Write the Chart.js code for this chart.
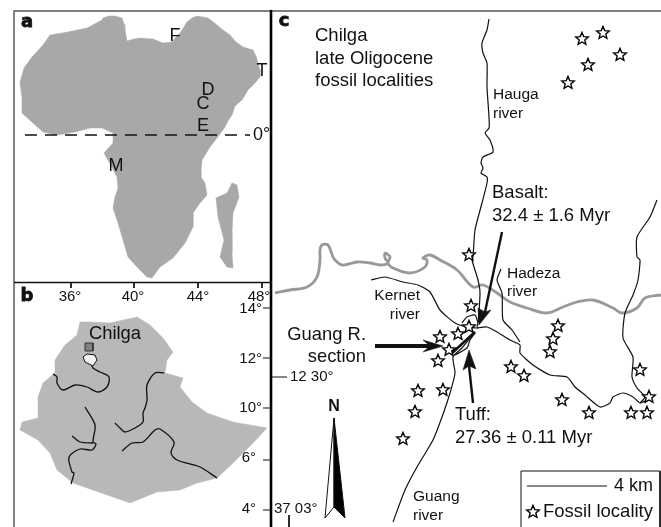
<!DOCTYPE html>
<html>
<head>
<meta charset="utf-8">
<script src="https://cdn.jsdelivr.net/npm/chart.js@4/dist/chart.umd.min.js"></script>
<style>
html, body { margin: 0; padding: 0; background: #fff; }
canvas { display: block; }
</style>
</head>
<body>
<canvas id="chart_div" width="661" height="527"></canvas>
<script>
// all map values are in picture units
var africa = [[103,18],[109,16],[115,16],[122,18],[124,24],[125,30],[127,41],[134,39],[140,38],[153,39],[163,43],[172,42],[176,37],[180,33],[184,27],[187,22],[192,18],[197,16],[208,18],[217,25],[223,30],[230,35],[236,42],[243,47],[253,50],[256,56],[258,63],[260,70],[260,77],[255,83],[248,90],[245,95],[242,100],[235,106],[232,115],[228,121],[225,127],[217,138],[210,147],[202,160],[201,170],[201,177],[205,183],[207,195],[200,203],[193,213],[193,227],[185,243],[173,258],[160,267],[152,278],[147,277],[137,267],[128,257],[123,240],[118,223],[113,208],[115,197],[118,188],[117,177],[108,160],[104,153],[113,143],[113,133],[102,128],[90,128],[75,132],[57,135],[43,132],[33,123],[22,113],[22,98],[20,82],[24,68],[32,57],[43,45],[50,35],[68,32],[87,28],[102,20]];
var madagascar = [[216,198],[227,193],[232,183],[237,185],[239,197],[233,213],[232,233],[232,253],[233,268],[227,267],[220,257],[224,240],[218,217]];
var ethiopia = [[80,322],[90,322],[110,323],[137,317],[150,325],[163,338],[173,352],[167,360],[165,373],[183,378],[180,387],[192,402],[207,413],[233,422],[267,428],[253,443],[233,463],[217,478],[197,483],[180,490],[157,492],[130,503],[113,497],[93,490],[73,483],[57,470],[50,453],[38,440],[20,430],[22,422],[38,418],[38,397],[43,383],[55,373],[55,360],[65,345],[77,335]];
var lakeTana = [[83,357],[87,354],[95,355],[97,360],[93,366],[85,362],[83,357]];
var chilgaSquare = [[85,343],[93,343],[93,351],[85,351],[85,343]];
var ethRivers = [
  [[53,374],[57,377],[57,383],[63,390],[75,385],[87,387],[98,392],[107,387],[109,377],[100,372],[93,368],[91,363]],
  [[164,373],[155,373],[147,385],[147,400],[145,408],[143,413],[143,422],[135,428],[125,432],[120,428],[115,423]],
  [[217,478],[200,467],[177,460],[171,453],[174,442],[160,429],[155,430],[143,442],[132,443],[122,451]],
  [[85,407],[95,425],[93,442],[96,444],[92,450],[80,449],[69,457],[72,472],[74,473],[71,484]],
  [[72,436],[80,442],[93,443]]
];
var haugaRiver = [[489,19],[487,30],[482,43],[483,53],[487,63],[487,87],[489,117],[489,128],[485,133],[490,140],[493,152],[483,157],[481,163],[483,168],[481,173],[487,177],[487,183],[482,203],[475,230],[473,257],[472,260],[478,280],[480,293],[478,323],[477,327]];
var eastRiver = [[657,200],[650,217],[637,237],[637,257],[640,260],[638,280],[633,295],[625,313],[623,338],[633,357],[632,377],[637,388],[645,397],[640,403]];
var mainRiver = [[477,328],[487,327],[497,332],[510,340],[520,345],[520,353],[533,365],[550,375],[567,377],[575,387],[585,395],[600,407],[610,403],[613,397],[623,393],[633,397],[640,403],[645,401]];
var hadezaRiver = [[501,269],[497,280],[502,293],[503,320],[512,330],[520,342]];
var kernetRiver = [[371,280],[385,277],[403,282],[418,285],[430,292],[440,310],[455,323],[467,327],[478,328]];
var kernetLoop = [[462,323],[467,317],[475,315],[478,323]];
var guangRiver = [[475,332],[462,348],[453,357],[455,373],[450,393],[442,417],[433,440],[417,467],[405,490],[393,522]];
var guangLoop = [[475,333],[470,340],[467,348],[455,355]];
var thickRiver = [[275,293],[290,290],[307,287],[317,277],[320,260],[320,250],[322,245],[328,245],[333,257],[335,260],[342,265],[357,262],[370,263],[380,265],[388,263],[385,258],[385,253],[390,257],[388,263],[393,268],[410,273],[425,267],[427,260],[423,258],[430,255],[440,260],[457,270],[473,287],[483,285],[497,293],[510,302],[527,308],[547,313],[563,307],[577,302],[593,300],[613,308],[622,313],[637,308],[645,298],[661,295]];
var fossilSites = [[582,39],[603,33],[620,55],[588,65],[568,83],[469,255],[471,306],[440,337],[458,334],[469,327],[449,350],[438,361],[558,326],[553,339],[550,352],[511,367],[524,376],[562,400],[589,413],[640,370],[649,397],[631,413],[647,413],[418,391],[443,390],[415,412],[403,439]];
var legendStar = [[533,512]];

var lonLabels = ["36°", "40°", "44°", "48°"];
var lonTicks = [71, 134, 198, 262];
var latLabels = ["14°", "12°", "10°", "6°", "4°"];
var latTicks = [308, 358, 408, 460, 510];
var africaSites = ["F", "D", "C", "E", "T", "M"];
var titleLines = ["Chilga", "late Oligocene", "fossil localities"];
var basaltLines = ["Basalt:", "32.4 ± 1.6 Myr"];
var tuffLines = ["Tuff:", "27.36 ± 0.11 Myr"];

var INK = "#111";

function toXY(pts) {
    return pts.map((p) => ({x: p[0], y: p[1]}));
}

var datasets = [];
function addPath(pts, color, width, opts) {
    var ds = Object.assign({
        data: toXY(pts),
        showLine: true,
        borderColor: color,
        borderWidth: width,
        pointRadius: 0,
        fill: false,
        tension: 0,
        borderJoinStyle: "round",
        borderCapStyle: "butt",
        clip: false,
        order: -datasets.length
    }, opts || {});
    datasets.push(ds);
}
function addShape(pts, color, line) {
    addPath(pts.concat([pts[0]]), line || color, line ? 1 : 0.5, {shapeColor: color});
}

function starImage(size, r) {
    var c = document.createElement("canvas"), ctx = c.getContext("2d");
    c.width = c.height = size;
    ctx.beginPath();
    for (var i = 0; i < 10; i++) {
        var a = -Math.PI / 2 + i * Math.PI / 5, rr = i % 2 ? r * 0.45 : r;
        ctx.lineTo(size / 2 + rr * Math.cos(a), size / 2 + rr * Math.sin(a));
    }
    ctx.closePath();
    ctx.fillStyle = "#fff";
    ctx.fill();
    ctx.lineWidth = 1.4;
    ctx.strokeStyle = "#000";
    ctx.stroke();
    return c;
}

// land
addShape(africa, "#a8a8a8");
addShape(madagascar, "#a8a8a8");
addShape(ethiopia, "#b8b8b8");
addPath([[25,135],[250,135]], INK, 1.3, {borderDash: [12, 8]});

ethRivers.forEach((r) => addPath(r, INK, 1.3, {tension: 0.3}));
addShape(lakeTana, "#f2f2f2", INK);
addShape(chilgaSquare, "#808080", "#333");

// panel c rivers
addPath(thickRiver, "#999", 2.8, {tension: 0.35});
[haugaRiver, eastRiver, mainRiver, hadezaRiver, kernetRiver, kernetLoop, guangRiver, guangLoop].forEach((r) => {
    addPath(r, INK, 1.2, {tension: 0.2});
});
addPath([[451,354],[475,332]], INK, 2.6);

// arrows
addPath([[502,232],[485,312]], INK, 2.4);
addShape([[479,325],[478,308],[485,312],[491,310]], INK);
addPath([[375,346],[430,346]], INK, 4);
addShape([[443,346],[423,340],[430,346],[423,352]], INK);
addPath([[473,403],[469,366]], INK, 2.4);
addShape([[469,350],[463,370],[469,366],[476,369]], INK);

// north arrow
addShape([[334,418],[325,518],[334,507]], "#fff", INK);
addShape([[334,418],[345,518],[334,507]], "#000", INK);

// frames and ticks
addPath([[14,11],[661,11]], "#555", 1.6);
addPath([[14,11],[14,527]], "#666", 1.6);
addPath([[14,282.5],[271,282.5]], INK, 1.4);
addPath([[271,11],[271,527]], "#000", 2.6);
lonTicks.forEach((x) => addPath([[x,282],[x,288]], INK, 1));
latTicks.forEach((y) => addPath([[263,y],[271,y]], INK, 1));
addPath([[272,377],[287,377]], INK, 1);
addPath([[289,515],[289,527]], INK, 1);

// legend box
addPath([[521,527],[521,471],[660,471],[660,527]], INK, 1);
addPath([[527,486],[607,486]], INK, 1);

datasets.push({
    data: toXY(fossilSites),
    showLine: false,
    pointStyle: starImage(16, 6.6),
    pointRadius: 8,
    clip: false,
    order: -datasets.length
});
datasets.push({
    data: toXY(legendStar),
    showLine: false,
    pointStyle: starImage(16, 6.6),
    pointRadius: 8,
    clip: false,
    order: -datasets.length
});

// the built in filler clips closed paths away, so fill them from the element points
var shapePlugin = {
    id: "mapShapes",
    beforeDatasetDraw(chart, args) {
        var color = chart.data.datasets[args.index].shapeColor;
        if (!color) return;
        var ctx = chart.ctx;
        ctx.save();
        ctx.beginPath();
        args.meta.data.forEach((pt) => ctx.lineTo(pt.x, pt.y));
        ctx.closePath();
        ctx.fillStyle = color;
        ctx.fill();
        ctx.restore();
    }
};

var textPlugin = {
    id: "mapText",
    afterDatasetsDraw(chart) {
        var ctx = chart.ctx, sx = chart.scales.x, sy = chart.scales.y;
        function put(str, x, y, size, align, weight, family) {
            ctx.font = (weight || "normal") + " " + size + "px " + (family || "'Liberation Sans'");
            ctx.textAlign = align || "left";
            ctx.textBaseline = "middle";
            ctx.fillStyle = INK;
            ctx.fillText(str, sx.getPixelForValue(x), sy.getPixelForValue(y));
        }
        function panel(str, x, y) {
            put(str, x, y, 18, "center", "bold", "'DejaVu Sans'");
            ctx.lineWidth = 0.8;
            ctx.strokeStyle = INK;
            ctx.strokeText(str, sx.getPixelForValue(x), sy.getPixelForValue(y));
        }
        ctx.save();
        panel("a", 27, 22);
        panel("b", 27, 296);
        panel("c", 284, 21);

        [[175,36],[208,90],[203,104],[203,126],[262,71],[116,166]].forEach((p, i) => {
            put(africaSites[i], p[0], p[1], 18, "center");
        });
        put("0°", 253, 135, 18);

        [70, 133, 198, 259].forEach((x, i) => put(lonLabels[i], x, 297, 15, "center"));
        [309, 359, 408, 458, 509].forEach((y, i) => put(latLabels[i], 262 - (i > 2 ? 6 : 0), y, 15, "right"));
        put("Chilga", 115, 334, 18.4, "center");

        titleLines.forEach((t, i) => put(t, 315, 36 + i * 22.5, 18.5));
        put("Hauga", 493, 95, 15.5);
        put("river", 493, 114, 15.5);
        basaltLines.forEach((t, i) => put(t, 492, 193 + i * 23, 18.5));
        put("Hadeza", 507, 274, 15.5);
        put("river", 507, 292, 15.5);
        put("Kernet", 420, 296, 15.5, "right");
        put("river", 420, 315, 15.5, "right");
        put("Guang R.", 366, 335, 18.4, "right");
        put("section", 366, 357, 18.4, "right");
        put("12 30°", 290, 377, 15);
        tuffLines.forEach((t, i) => put(t, 455, 415 + i * 23, 18.5));
        put("37 03°", 274, 509, 15);
        put("N", 334, 407, 16, "center", "bold");
        put("Guang", 413, 497, 15.5);
        put("river", 413, 516, 15.5);
        put("4 km", 614, 486, 18);
        put("Fossil locality", 543, 512, 18.5);
        ctx.restore();
    }
};

new Chart(document.getElementById("chart_div"), {
    type: "scatter",
    data: {datasets: datasets},
    options: {
        responsive: false,
        animation: false,
        layout: {padding: 0, autoPadding: false},
        plugins: {legend: {display: false}, tooltip: {enabled: false}},
        scales: {
            x: {type: "linear", display: false, min: 0, max: 661},
            y: {type: "linear", display: false, min: 0, max: 527, reverse: true}
        }
    },
    plugins: [shapePlugin, textPlugin]
});
</script>
</body>
</html>
